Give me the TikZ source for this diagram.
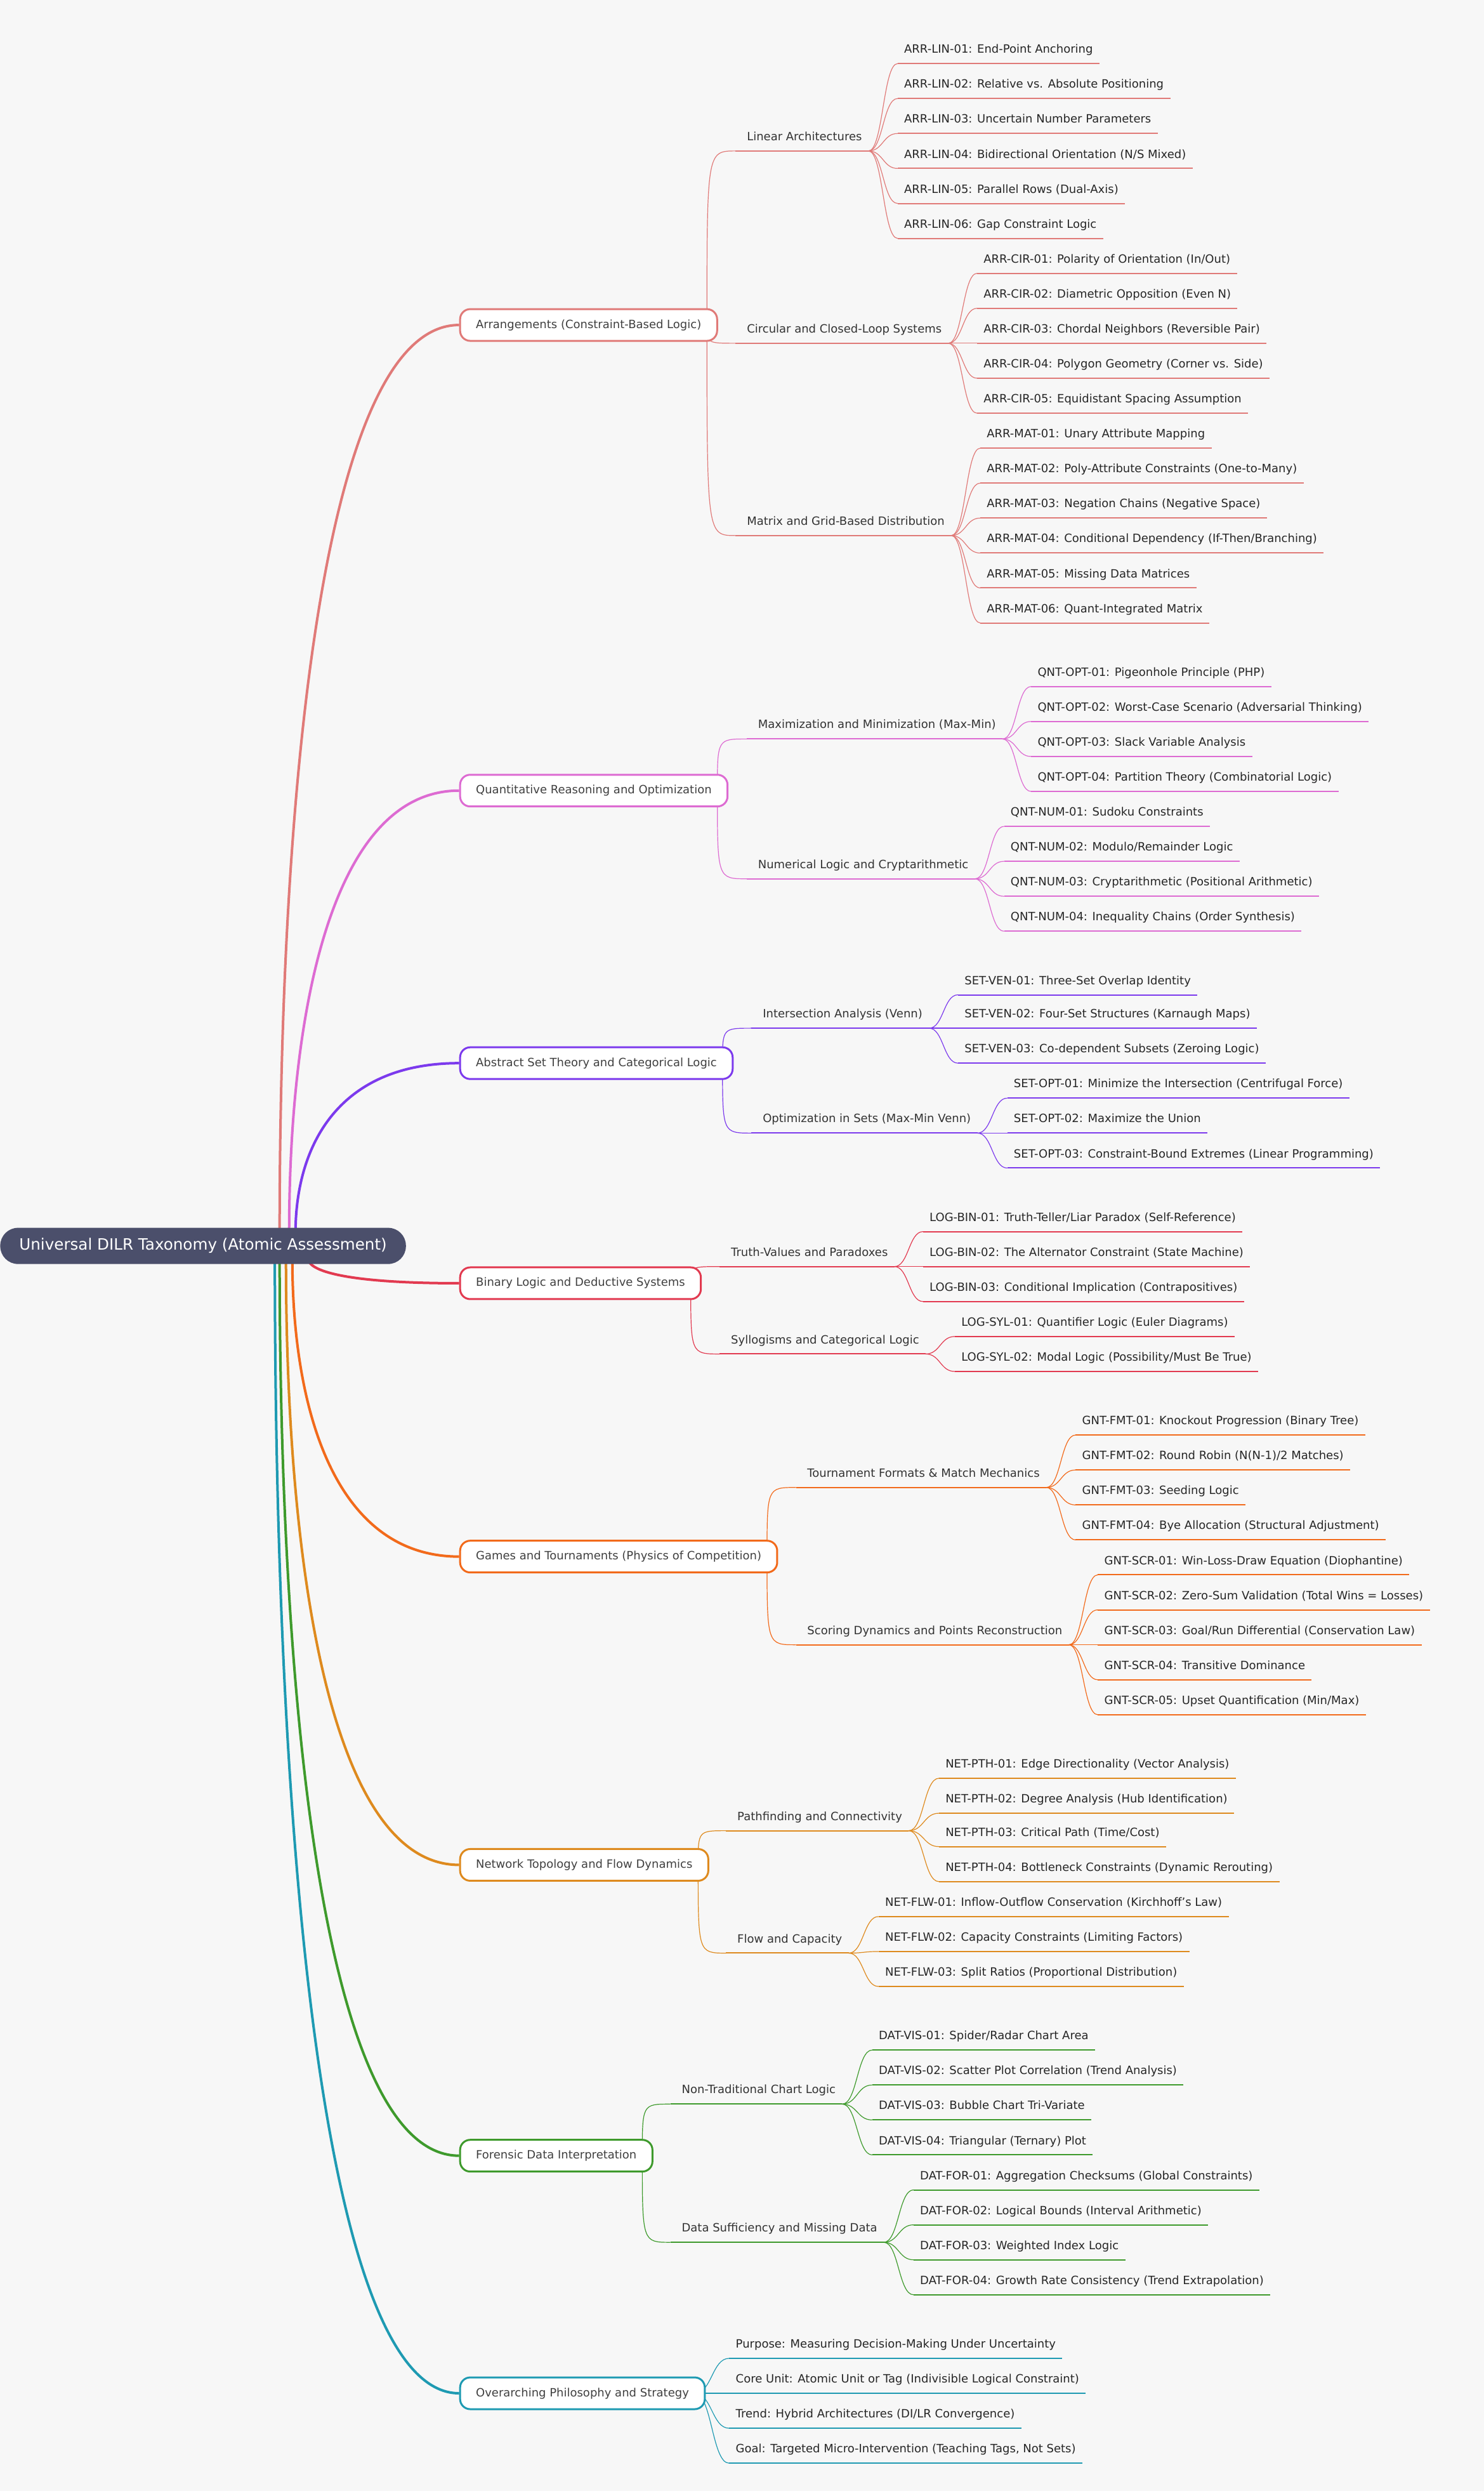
\documentclass[tikz,border=0pt]{standalone}
\usepackage{fontspec}
\setmainfont{DejaVu Sans}
\usetikzlibrary{calc}
\pgfdeclarelayer{background}
\pgfdeclarelayer{bottom}
\pgfsetlayers{bottom,background,main}
\definecolor{bg}{HTML}{F7F7F7}
\definecolor{rootc}{HTML}{4B4F6B}
\definecolor{c1}{HTML}{E07A78}
\definecolor{c2}{HTML}{DD6BD2}
\definecolor{c3}{HTML}{7C3AED}
\definecolor{c4}{HTML}{E23A50}
\definecolor{c5}{HTML}{F26A1B}
\definecolor{c6}{HTML}{DE8A1E}
\definecolor{c7}{HTML}{3E9A2C}
\definecolor{c8}{HTML}{1E9AB2}
\newcommand\cc{c1}
\newcommand\jn{cs1}
\newcommand\lf[4]{%
 \node[leaf] (#1) at ({#2-4},{#3+9}) {#4};
 \begin{pgfonlayer}{background}
 \draw[draw=\cc,line width=0.6pt] let \p1=(\jn), \p2=(#1.south west) in (\p1) .. controls ({0.5*\x1+0.5*\x2},\y1) and ({0.5*\x1+0.5*\x2},\y2) .. (\p2);
 \draw[draw=\cc,line width=1pt] (#1.south west) -- (#1.south east);
 \end{pgfonlayer}}
\newcommand\sbn[5]{%
 \node[subn] (#1) at ({#2+3},#3) {#4};
 \coordinate (#1a) at (#2,#3);
 \begin{pgfonlayer}{background}
 \draw[draw=\cc,line width=0.6pt] (#5) .. controls (#5|-#1a) and (#5|-#1a) .. (#1a);
 \draw[draw=\cc,line width=1pt] (#1a) -- (#1.south east);
 \end{pgfonlayer}
 \renewcommand\jn{#1.south east}}
\begin{document}
\begin{tikzpicture}[x=1.25214pt,y=-1.25214pt,
 leaf/.style={anchor=south west,inner xsep=5pt,inner ysep=6pt,text height=7pt,text depth=2pt,font=\fontsize{9}{11}\selectfont,text=black!85},
 subn/.style={leaf,text=black!80},
 cat/.style={anchor=west,rounded corners=8pt,fill=white,line width=1.5pt,minimum height=25pt,inner xsep=12.5pt,font=\fontsize{9}{11}\selectfont,text=black!75},
 rootedge/.style={line width=2pt}]
\begin{pgfonlayer}{bottom}
\fill[bg] (0,0) rectangle (934.1,1567.5);
\end{pgfonlayer}
\useasboundingbox (0,0) rectangle (934.1,1567.5);
\node[anchor=west,fill=rootc,text=white,rounded corners=14pt,minimum height=28.5pt,inner xsep=15pt,font=\fontsize{12.3}{14}\selectfont,text height=9pt,text depth=2.5pt] (root) at (0,784) {Universal DILR Taxonomy (Atomic Assessment)};
\foreach \n/\x/\y in {r1/176/776,r2/182/776,r3/186/776,r4/194/792,r5/184/792,r6/180/792,r7/176/792,r8/173/792}{\coordinate (\n) at (\x,\y);}
% categories
\node[cat,draw=c1] (cat1) at (289,204.5) {Arrangements (Constraint-Based Logic)};
\node[cat,draw=c2] (cat2) at (289,497.5) {Quantitative Reasoning and Optimization};
\node[cat,draw=c3] (cat3) at (289,669) {Abstract Set Theory and Categorical Logic};
\node[cat,draw=c4] (cat4) at (289,807.5) {Binary Logic and Deductive Systems};
\node[cat,draw=c5] (cat5) at (289,979.5) {Games and Tournaments (Physics of Competition)};
\node[cat,draw=c6] (cat6) at (289,1173.5) {Network Topology and Flow Dynamics};
\node[cat,draw=c7] (cat7) at (289,1356.5) {Forensic Data Interpretation};
\node[cat,draw=c8] (cat8) at (289,1506) {Overarching Philosophy and Strategy};
\begin{pgfonlayer}{background}
\foreach \i in {1,...,8}{
 \draw[rootedge,draw=c\i] let \p1=(r\i), \p2=(cat\i.west) in (\p1) .. controls (\x1,{0.5*\y1+0.5*\y2}) and ({0.75*\x1+0.25*\x2},\y2) .. (\p2);
 \coordinate (cs\i) at ($(cat\i.east)+(-7,0)$);}
\end{pgfonlayer}
% 1
\renewcommand\cc{c1}
\sbn{lin}{463}{95}{Linear Architectures}{cs1}
\lf{ARR-LIN-01}{569}{31}{ARR-LIN-01: End-Point Anchoring}
\lf{ARR-LIN-02}{569}{53}{ARR-LIN-02: Relative vs. Absolute Positioning}
\lf{ARR-LIN-03}{569}{75}{ARR-LIN-03: Uncertain Number Parameters}
\lf{ARR-LIN-04}{569}{97}{ARR-LIN-04: Bidirectional Orientation (N/S Mixed)}
\lf{ARR-LIN-05}{569}{119}{ARR-LIN-05: Parallel Rows (Dual-Axis)}
\lf{ARR-LIN-06}{569}{141}{ARR-LIN-06: Gap Constraint Logic}
\sbn{cir}{463}{216}{Circular and Closed-Loop Systems}{cs1}
\lf{ARR-CIR-01}{619}{163}{ARR-CIR-01: Polarity of Orientation (In/Out)}
\lf{ARR-CIR-02}{619}{185}{ARR-CIR-02: Diametric Opposition (Even N)}
\lf{ARR-CIR-03}{619}{207}{ARR-CIR-03: Chordal Neighbors (Reversible Pair)}
\lf{ARR-CIR-04}{619}{229}{ARR-CIR-04: Polygon Geometry (Corner vs. Side)}
\lf{ARR-CIR-05}{619}{251}{ARR-CIR-05: Equidistant Spacing Assumption}
\sbn{mat}{463}{337}{Matrix and Grid-Based Distribution}{cs1}
\lf{ARR-MAT-01}{621}{273}{ARR-MAT-01: Unary Attribute Mapping}
\lf{ARR-MAT-02}{621}{295}{ARR-MAT-02: Poly-Attribute Constraints (One-to-Many)}
\lf{ARR-MAT-03}{621}{317}{ARR-MAT-03: Negation Chains (Negative Space)}
\lf{ARR-MAT-04}{621}{339}{ARR-MAT-04: Conditional Dependency (If-Then/Branching)}
\lf{ARR-MAT-05}{621}{361}{ARR-MAT-05: Missing Data Matrices}
\lf{ARR-MAT-06}{621}{383}{ARR-MAT-06: Quant-Integrated Matrix}
% 2
\renewcommand\cc{c2}
\sbn{opt}{470}{465}{Maximization and Minimization (Max-Min)}{cs2}
\lf{QNT-OPT-01}{653}{423}{QNT-OPT-01: Pigeonhole Principle (PHP)}
\lf{QNT-OPT-02}{653}{445}{QNT-OPT-02: Worst-Case Scenario (Adversarial Thinking)}
\lf{QNT-OPT-03}{653}{467}{QNT-OPT-03: Slack Variable Analysis}
\lf{QNT-OPT-04}{653}{489}{QNT-OPT-04: Partition Theory (Combinatorial Logic)}
\sbn{num}{470}{553}{Numerical Logic and Cryptarithmetic}{cs2}
\lf{QNT-NUM-01}{636}{511}{QNT-NUM-01: Sudoku Constraints}
\lf{QNT-NUM-02}{636}{533}{QNT-NUM-02: Modulo/Remainder Logic}
\lf{QNT-NUM-03}{636}{555}{QNT-NUM-03: Cryptarithmetic (Positional Arithmetic)}
\lf{QNT-NUM-04}{636}{577}{QNT-NUM-04: Inequality Chains (Order Synthesis)}
% 3
\renewcommand\cc{c3}
\sbn{ven}{473}{647}{Intersection Analysis (Venn)}{cs3}
\lf{SET-VEN-01}{607}{617}{SET-VEN-01: Three-Set Overlap Identity}
\lf{SET-VEN-02}{607}{638}{SET-VEN-02: Four-Set Structures (Karnaugh Maps)}
\lf{SET-VEN-03}{607}{660}{SET-VEN-03: Co-dependent Subsets (Zeroing Logic)}
\sbn{sop}{473}{713}{Optimization in Sets (Max-Min Venn)}{cs3}
\lf{SET-OPT-01}{638}{682}{SET-OPT-01: Minimize the Intersection (Centrifugal Force)}
\lf{SET-OPT-02}{638}{704}{SET-OPT-02: Maximize the Union}
\lf{SET-OPT-03}{638}{726}{SET-OPT-03: Constraint-Bound Extremes (Linear Programming)}
% 4
\renewcommand\cc{c4}
\sbn{bin}{453}{797}{Truth-Values and Paradoxes}{cs4}
\lf{LOG-BIN-01}{585}{766}{LOG-BIN-01: Truth-Teller/Liar Paradox (Self-Reference)}
\lf{LOG-BIN-02}{585}{788}{LOG-BIN-02: The Alternator Constraint (State Machine)}
\lf{LOG-BIN-03}{585}{810}{LOG-BIN-03: Conditional Implication (Contrapositives)}
\sbn{syl}{453}{852}{Syllogisms and Categorical Logic}{cs4}
\lf{LOG-SYL-01}{605}{832}{LOG-SYL-01: Quantifier Logic (Euler Diagrams)}
\lf{LOG-SYL-02}{605}{854}{LOG-SYL-02: Modal Logic (Possibility/Must Be True)}
% 5
\renewcommand\cc{c5}
\sbn{fmt}{501}{936}{Tournament Formats \& Match Mechanics}{cs5}
\lf{GNT-FMT-01}{681}{894}{GNT-FMT-01: Knockout Progression (Binary Tree)}
\lf{GNT-FMT-02}{681}{916}{GNT-FMT-02: Round Robin (N(N-1)/2 Matches)}
\lf{GNT-FMT-03}{681}{938}{GNT-FMT-03: Seeding Logic}
\lf{GNT-FMT-04}{681}{960}{GNT-FMT-04: Bye Allocation (Structural Adjustment)}
\sbn{scr}{501}{1035}{Scoring Dynamics and Points Reconstruction}{cs5}
\lf{GNT-SCR-01}{695}{982}{GNT-SCR-01: Win-Loss-Draw Equation (Diophantine)}
\lf{GNT-SCR-02}{695}{1004}{GNT-SCR-02: Zero-Sum Validation (Total Wins = Losses)}
\lf{GNT-SCR-03}{695}{1026}{GNT-SCR-03: Goal/Run Differential (Conservation Law)}
\lf{GNT-SCR-04}{695}{1048}{GNT-SCR-04: Transitive Dominance}
\lf{GNT-SCR-05}{695}{1070}{GNT-SCR-05: Upset Quantification (Min/Max)}
% 6
\renewcommand\cc{c6}
\sbn{pth}{457}{1152}{Pathfinding and Connectivity}{cs6}
\lf{NET-PTH-01}{595}{1110}{NET-PTH-01: Edge Directionality (Vector Analysis)}
\lf{NET-PTH-02}{595}{1132}{NET-PTH-02: Degree Analysis (Hub Identification)}
\lf{NET-PTH-03}{595}{1153}{NET-PTH-03: Critical Path (Time/Cost)}
\lf{NET-PTH-04}{595}{1175}{NET-PTH-04: Bottleneck Constraints (Dynamic Rerouting)}
\sbn{flw}{457}{1229}{Flow and Capacity}{cs6}
\lf{NET-FLW-01}{557}{1197}{NET-FLW-01: Inflow-Outflow Conservation (Kirchhoff's Law)}
\lf{NET-FLW-02}{557}{1219}{NET-FLW-02: Capacity Constraints (Limiting Factors)}
\lf{NET-FLW-03}{557}{1241}{NET-FLW-03: Split Ratios (Proportional Distribution)}
% 7
\renewcommand\cc{c7}
\sbn{vis}{422}{1324}{Non-Traditional Chart Logic}{cs7}
\lf{DAT-VIS-01}{553}{1281}{DAT-VIS-01: Spider/Radar Chart Area}
\lf{DAT-VIS-02}{553}{1303}{DAT-VIS-02: Scatter Plot Correlation (Trend Analysis)}
\lf{DAT-VIS-03}{553}{1325}{DAT-VIS-03: Bubble Chart Tri-Variate}
\lf{DAT-VIS-04}{553}{1347}{DAT-VIS-04: Triangular (Ternary) Plot}
\sbn{for}{422}{1411}{Data Sufficiency and Missing Data}{cs7}
\lf{DAT-FOR-01}{579}{1369}{DAT-FOR-01: Aggregation Checksums (Global Constraints)}
\lf{DAT-FOR-02}{579}{1391}{DAT-FOR-02: Logical Bounds (Interval Arithmetic)}
\lf{DAT-FOR-03}{579}{1413}{DAT-FOR-03: Weighted Index Logic}
\lf{DAT-FOR-04}{579}{1435}{DAT-FOR-04: Growth Rate Consistency (Trend Extrapolation)}
% 8
\renewcommand\cc{c8}
\renewcommand\jn{cs8}
\lf{phi1}{463}{1475}{Purpose: Measuring Decision-Making Under Uncertainty}
\lf{phi2}{463}{1497}{Core Unit: Atomic Unit or Tag (Indivisible Logical Constraint)}
\lf{phi3}{463}{1519}{Trend: Hybrid Architectures (DI/LR Convergence)}
\lf{phi4}{463}{1541}{Goal: Targeted Micro-Intervention (Teaching Tags, Not Sets)}
\end{tikzpicture}
\end{document}
